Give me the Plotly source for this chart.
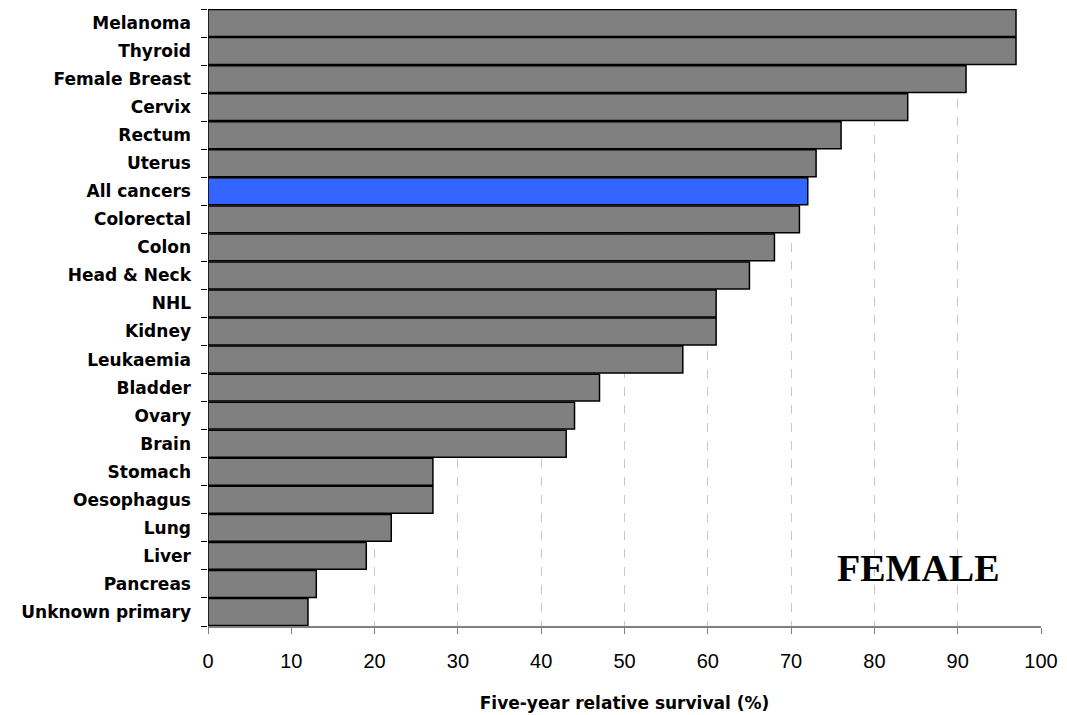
import plotly.graph_objects as go

categories = ["Melanoma", "Thyroid", "Female Breast", "Cervix", "Rectum", "Uterus",
              "All cancers", "Colorectal", "Colon", "Head & Neck", "NHL", "Kidney",
              "Leukaemia", "Bladder", "Ovary", "Brain", "Stomach", "Oesophagus",
              "Lung", "Liver", "Pancreas", "Unknown primary"]
survival = [97, 97, 91, 84, 76, 73, 72, 71, 68, 65, 61, 61, 57, 47, 44, 43, 27, 27, 22, 19, 13, 12]
x_ticks = [0, 10, 20, 30, 40, 50, 60, 70, 80, 90, 100]

colors = ["#3366FF" if c == "All cancers" else "#808080" for c in categories]

fig = go.Figure(go.Bar(
    x=survival, y=categories, orientation="h",
    marker=dict(color=colors, line=dict(color="black", width=1.5)),
))

# page body has an 8px margin, so the figure is sized/offset accordingly
fig.update_layout(
    width=1059, height=707,
    margin=dict(l=200, r=26, t=1, b=89),
    paper_bgcolor="white", plot_bgcolor="white",
    bargap=0.04, showlegend=False,
    font=dict(family="Liberation Sans, Arial, sans-serif", color="black"),
    xaxis=dict(range=[0, 100], tickvals=x_ticks, ticks="outside", ticklen=6,
               tickcolor="#808080", showline=True, linecolor="#808080", linewidth=2,
               showgrid=True, gridcolor="#C8C8C8", griddash="dash", gridwidth=1,
               zeroline=False, tickfont=dict(size=20), ticklabelstandoff=10,
               automargin=False,
               title=dict(text="<b>Five-year relative survival (%)</b>",
                          font=dict(family="DejaVu Sans, sans-serif", size=17), standoff=26)),
    yaxis=dict(categoryorder="array", categoryarray=categories, autorange="reversed",
               ticks="outside", tickson="boundaries", ticklen=6, tickcolor="black",
               showline=False, showgrid=False, automargin=False,
               tickfont=dict(family="DejaVu Sans, sans-serif", size=17), ticklabelstandoff=16,
               tickmode="array", tickvals=categories,
               ticktext=["<b>%s</b>" % c for c in categories]),
)

fig.add_annotation(x=0.8535, y=0.094, xref="paper", yref="paper", text="<b>FEMALE</b>",
                   xanchor="center", yanchor="middle", showarrow=False,
                   font=dict(family="Liberation Serif, Times New Roman, serif", size=38, color="black"))

fig.write_html("out.html")
